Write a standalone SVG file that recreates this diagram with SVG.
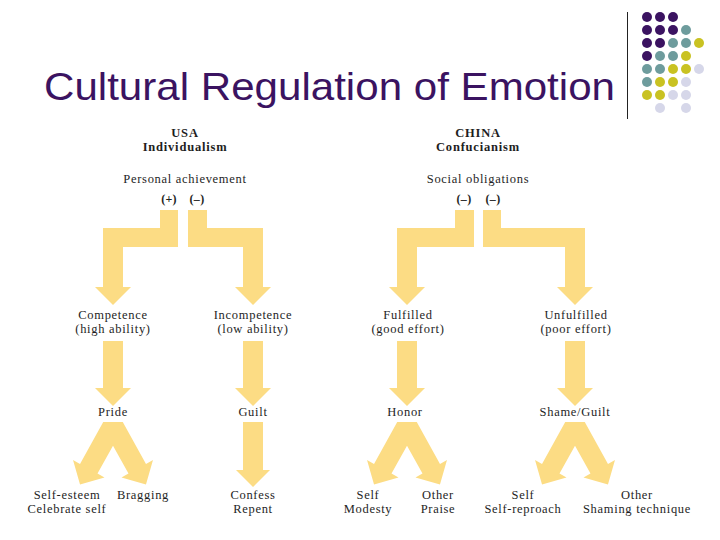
<svg xmlns="http://www.w3.org/2000/svg" width="720" height="540" viewBox="0 0 720 540">
<style>
.t{font-family:"Liberation Serif","Times New Roman",serif;font-size:12.5px;letter-spacing:0.7px;fill:#1e1e1e;text-anchor:middle}
.h{font-weight:bold;font-size:12.5px;letter-spacing:0.8px}
.s{font-weight:bold;font-size:12px;letter-spacing:0.3px}
.a{fill:#fcdc84}
.p{fill:#3b1361}.g{fill:#6e9c9d}.y{fill:#c9c222}.l{fill:#d6d7e9}
</style>
<defs>
<path id="down" d="M-10 0H10V47H18L0 65L-18 47H-10Z"/>
<path id="split" d="M-9.77 -3L9.77 -3L32.99 38.88L39.98 35L32.97 59.47L8.5 52.46L15.49 48.58L0 20.63L-15.49 48.58L-8.5 52.46L-32.97 59.47L-39.98 35L-32.99 38.88Z"/>
</defs>
<rect width="720" height="540" fill="#ffffff"/>
<g id="title">
<text x="44" y="100" font-family="Liberation Sans, Arial, sans-serif" font-size="39" fill="#3b1361" textLength="571" lengthAdjust="spacingAndGlyphs">Cultural Regulation of Emotion</text>
<line x1="627.5" y1="12" x2="627.5" y2="119" stroke="#222" stroke-width="1"/>
</g>
<g id="dots">
<circle class="p" cx="647" cy="17" r="5"/><circle class="p" cx="660" cy="17" r="5"/><circle class="p" cx="673" cy="17" r="5"/>
<circle class="p" cx="647" cy="30" r="5"/><circle class="p" cx="660" cy="30" r="5"/><circle class="p" cx="673" cy="30" r="5"/><circle class="g" cx="686" cy="30" r="5"/>
<circle class="p" cx="647" cy="43" r="5"/><circle class="p" cx="660" cy="43" r="5"/><circle class="g" cx="673" cy="43" r="5"/><circle class="g" cx="686" cy="43" r="5"/><circle class="y" cx="699" cy="43" r="5"/>
<circle class="p" cx="647" cy="56" r="5"/><circle class="g" cx="660" cy="56" r="5"/><circle class="g" cx="673" cy="56" r="5"/><circle class="y" cx="686" cy="56" r="5"/>
<circle class="g" cx="647" cy="69" r="5"/><circle class="g" cx="660" cy="69" r="5"/><circle class="y" cx="673" cy="69" r="5"/><circle class="y" cx="686" cy="69" r="5"/><circle class="l" cx="699" cy="69" r="5"/>
<circle class="g" cx="647" cy="82" r="5"/><circle class="y" cx="660" cy="82" r="5"/><circle class="y" cx="673" cy="82" r="5"/><circle class="l" cx="686" cy="82" r="5"/>
<circle class="y" cx="647" cy="95" r="5"/><circle class="y" cx="660" cy="95" r="5"/><circle class="l" cx="673" cy="95" r="5"/><circle class="l" cx="686" cy="95" r="5"/>
<circle class="l" cx="660" cy="108" r="5"/><circle class="l" cx="686" cy="108" r="5"/>
</g>
<g id="connectors" class="a">
<path d="M160 210H178V247H123V287H131L113 305L95 287H103V228H160Z"/>
<path d="M188 210H207V228H263V287H271L253 305L235 287H243V247H188Z"/>
<path d="M455 210H474V247H417V287H425L407 305L389 287H397V228H455Z"/>
<path d="M483 210H501V228H585V287H593L575 305L557 287H565V247H483Z"/>
<use href="#down" x="113" y="341"/>
<use href="#down" x="253" y="341"/>
<use href="#down" x="407" y="341"/>
<use href="#down" x="575" y="341"/>
<path d="M243 422H263V470H270L253 487L236 470H243Z"/>
<use href="#split" x="113" y="425"/>
<use href="#split" x="407" y="425"/>
<use href="#split" x="575" y="425"/>
</g>
<g id="usa">
<text class="t h" x="185" y="137">USA</text>
<text class="t h" x="185" y="151">Individualism</text>
<text class="t" x="185" y="183">Personal achievement</text>
<text class="t s" x="169" y="203">(+)</text>
<text class="t s" x="197" y="203">(–)</text>
</g>
<g id="china">
<text class="t h" x="478" y="137">CHINA</text>
<text class="t h" x="478" y="151">Confucianism</text>
<text class="t" x="478" y="183">Social obligations</text>
<text class="t s" x="464" y="203">(–)</text>
<text class="t s" x="493" y="203">(–)</text>
</g>
<g id="competence"><text class="t" x="113" y="319">Competence</text><text class="t" x="113" y="333">(high ability)</text></g>
<g id="incompetence"><text class="t" x="253" y="319">Incompetence</text><text class="t" x="253" y="333">(low ability)</text></g>
<g id="fulfilled"><text class="t" x="408" y="319">Fulfilled</text><text class="t" x="408" y="333">(good effort)</text></g>
<g id="unfulfilled"><text class="t" x="576" y="319">Unfulfilled</text><text class="t" x="576" y="333">(poor effort)</text></g>
<g id="pride"><text class="t" x="113" y="416">Pride</text></g>
<g id="guilt"><text class="t" x="253" y="416">Guilt</text></g>
<g id="honor"><text class="t" x="405" y="416">Honor</text></g>
<g id="shame"><text class="t" x="575" y="416">Shame/Guilt</text></g>
<g id="selfesteem"><text class="t" x="67" y="499">Self-esteem</text><text class="t" x="67" y="513">Celebrate self</text></g>
<g id="bragging"><text class="t" x="143" y="499">Bragging</text></g>
<g id="confess"><text class="t" x="253" y="499">Confess</text><text class="t" x="253" y="513">Repent</text></g>
<g id="modesty"><text class="t" x="368" y="499">Self</text><text class="t" x="368" y="513">Modesty</text></g>
<g id="praise"><text class="t" x="438" y="499">Other</text><text class="t" x="438" y="513">Praise</text></g>
<g id="selfreproach"><text class="t" x="523" y="499">Self</text><text class="t" x="523" y="513">Self-reproach</text></g>
<g id="shaming"><text class="t" x="637" y="499">Other</text><text class="t" x="637" y="513">Shaming technique</text></g>
</svg>
